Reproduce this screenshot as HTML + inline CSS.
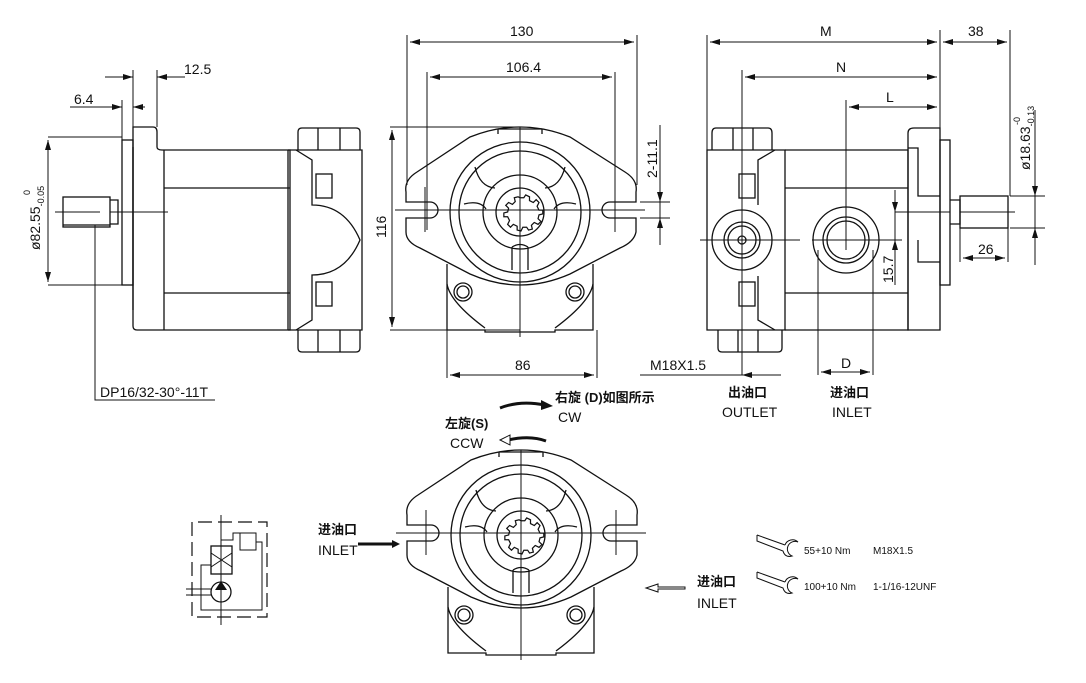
<!DOCTYPE html>
<html><head><meta charset="utf-8"><style>
html,body{margin:0;padding:0;background:#fff}
svg{display:block}
text{font-family:"Liberation Sans","Noto Sans CJK SC",sans-serif;fill:#111}
.d{font-family:"Liberation Sans Narrow","Liberation Sans",sans-serif;font-size:14px}
.b{font-weight:bold;font-size:13px}
</style></head><body>
<svg width="1086" height="683" viewBox="0 0 1086 683" xmlns="http://www.w3.org/2000/svg">
<defs>
<marker id="a" viewBox="0 0 10 6" refX="10" refY="3" markerWidth="10" markerHeight="6" orient="auto-start-reverse" markerUnits="userSpaceOnUse"><path d="M0,0L10,3L0,6z" fill="#111"/></marker>
<g id="front" fill="none" stroke="#111" stroke-width="1.3">
  <path d="M-22,-83 L-22,-78 M22,-83 L22,-78 M-22,-83 H22"/>
  <path d="M-50,-75 Q0,-95 50,-75 L105,-40 Q118,-32 116,-20 L116,-10 L90,-10 A8,8 0 0 0 90,6 L116,6 L116,20 Q114,30 100,36 L50,62 Q0,84 -50,62 L-100,36 Q-114,30 -114,20 L-114,6 L-90,6 A8,8 0 0 0 -90,-10 L-114,-10 L-114,-20 Q-116,-32 -103,-40 Z"/>
  <circle r="70"/><circle r="61"/><circle r="37"/><circle r="24"/>
  <path d="M0,-15 l4,0 2,-3 4,2 0,4 4,2 3,-3 3,3 -2,4 2,4 4,0 0,4 -4,1 -1,4 3,3 -3,3 -4,-2 -3,3 1,4 -4,1 -2,-3 -4,0 -2,4 -4,-1 0,-4 -4,-2 -3,3 -3,-3 2,-4 -2,-4 -4,0 0,-4 4,-1 1,-4 -3,-3 3,-3 4,2 3,-3 -1,-4 4,-1 z" transform="scale(0.95)"/>
  <path d="M-45,-45 Q-40,-25 -25,-24 M45,-45 Q40,-25 25,-24 M-56,-8 Q-40,-12 -34,-3 M56,-8 Q40,-12 34,-3 M-8,35 V58 M8,35 V58 M-8,35 Q0,30 8,35"/>
  <path d="M-73,52 V118 L-35,118 V120 H35 V118 L73,118 V52"/>
  <path d="M-73,72 Q-70,90 -35,116 M73,72 Q70,90 35,116"/>
  <circle cx="-57" cy="80" r="9"/><circle cx="-57" cy="80" r="6"/><circle cx="55" cy="80" r="9"/><circle cx="55" cy="80" r="6"/>
  <path d="M-125,-2 H125 M0,-85 V125" stroke-width="1"/>
  <path d="M-95,-25 V20 M95,-25 V20" stroke-width="1"/>
</g>
</defs>
<g fill="none" stroke="#111" stroke-width="1.3">
<path d="M133,127 H153 Q157,127 157,132 V147 Q157,150 162,150 H290 V330 H137 Q133,330 133,326 V268 Z"/>
<path d="M133,147 V310"/>
<rect x="122" y="140" width="11" height="145"/>
<path d="M164,150 V330 M164,188 H290 M164,293 H290 M288,150 V330 M288,150 H362 V330 H288"/>
<path d="M296,150 L312,160 V205 Q345,205 360,240 Q345,275 312,275 V320 L296,330"/>
<rect x="316" y="174" width="16" height="24"/><rect x="316" y="282" width="16" height="24"/>
<path d="M298,150 V132 Q298,128 302,128 H356 Q360,128 360,132 V150 M318,128 V150 M340,128 V150"/>
<path d="M298,330 V348 Q298,352 302,352 H356 Q360,352 360,348 V330 M318,330 V352 M340,330 V352"/>
<rect x="63" y="197" width="47" height="30"/><path d="M110,200 H118 V224 H110 M63,225 H110" />
<path d="M55,212 H100 M110,212 H168" stroke-width="1"/>
<path d="M707,150 H785 V330 H707 Z"/>
<path d="M785,150 H908 V330 H785 M785,188 H908 M785,293 H908"/>
<path d="M775,150 L758,160 V205 M758,276 V320 L775,330"/>
<rect x="739" y="174" width="16" height="24"/><rect x="739" y="282" width="16" height="24"/>
<path d="M908,150 V133 Q908,128 914,128 H940 V330 H908 Z M908,148 H918 V196 H940 M918,240 V262 H940"/>
<rect x="940" y="140" width="10" height="145"/>
<rect x="960" y="196" width="48" height="32"/><path d="M950,200 H960 V224 H950"/>
<path d="M712,150 V133 Q712,128 716,128 H768 Q772,128 772,133 V150 M733,128 V150 M753,128 V150"/>
<path d="M718,330 V348 Q718,352 722,352 H778 Q782,352 782,348 V330 M738,330 V352 M758,330 V352"/>
<circle cx="742" cy="240" r="30"/><circle cx="742" cy="240" r="18"/><circle cx="742" cy="240" r="14"/><circle cx="742" cy="240" r="4"/>
<circle cx="846" cy="240" r="33"/><circle cx="846" cy="240" r="23"/><circle cx="846" cy="240" r="19"/>
<path d="M700,240 H800 M812,240 H902 M895,212 H950 M960,212 H1015" stroke-width="1"/>
<path d="M192,522 V617 H267 V522 H192" stroke-dasharray="14,6" stroke-width="1.2"/>
<path d="M221,515 V625 M221,540 H233 V533 H247 M256,542 H262 V610 H201 V565 H211 M186,589 H211 M186,595 H211" stroke-width="1"/>
<rect x="211" y="546" width="21" height="28"/><path d="M211,553 L232,567 M232,553 L211,567" stroke-width="1"/>
<rect x="240" y="533" width="16" height="17" stroke-width="1"/>
<circle cx="221" cy="592" r="10"/>
</g>
<path d="M221,581 L227,590 L215,590 Z" fill="#111"/>
<use href="#front" x="520" y="212"/>
<use href="#front" x="521" y="535"/>
<g stroke="#111" stroke-width="1" fill="none">
<path d="M407,35 V185 M637,35 V185 M427,72 V230 M615,72 V230 M133,70 V127 M157,70 V127 M122,100 V140 M48,137 H122 M48,285 H122 M390,127 H520 M390,330 H520 M447,330 V378 M597,330 V378 M707,35 V150 M940,30 V128 M1010,30 V196 M742,70 V375 M846,100 V250 M818,250 V375 M873,250 V375 M660,160 V245 M640,202 H670 M640,218 H670 M895,190 V285 M1035,110 V265 M1010,196 H1045 M1010,228 H1045 M960,228 V262 M1008,228 V262"/>
<path d="M95,225 V400 H215"/>
<path d="M640,375 H742"/>
<path d="M410,42 H634" marker-start="url(#a)" marker-end="url(#a)"/>
<path d="M430,77 H612" marker-start="url(#a)" marker-end="url(#a)"/>
<path d="M105,77 H133" marker-end="url(#a)"/><path d="M185,77 H157" marker-end="url(#a)"/>
<path d="M70,107 H122" marker-end="url(#a)"/><path d="M145,107 H133" marker-end="url(#a)"/>
<path d="M48,140 V282" marker-start="url(#a)" marker-end="url(#a)"/>
<path d="M392,130 V327" marker-start="url(#a)" marker-end="url(#a)"/>
<path d="M450,375 H594" marker-start="url(#a)" marker-end="url(#a)"/>
<path d="M660,125 V202" marker-end="url(#a)"/><path d="M660,235 V218" marker-end="url(#a)"/>
<path d="M710,42 H937" marker-start="url(#a)" marker-end="url(#a)"/>
<path d="M943,42 H1007" marker-start="url(#a)" marker-end="url(#a)"/>
<path d="M745,77 H937" marker-start="url(#a)" marker-end="url(#a)"/>
<path d="M849,107 H937" marker-start="url(#a)" marker-end="url(#a)"/>
<path d="M1035,110 V196" marker-end="url(#a)"/><path d="M1035,250 V228" marker-end="url(#a)"/>
<path d="M963,258 H1005" marker-start="url(#a)" marker-end="url(#a)"/>
<path d="M895,190 V212" marker-end="url(#a)"/><path d="M895,285 V240" marker-end="url(#a)"/>
<path d="M821,372 H870" marker-start="url(#a)" marker-end="url(#a)"/>
<path d="M760,375 H781 M760,375 H742" marker-end="url(#a)"/>
</g>
<path d="M500,408 Q520,400 545,405" stroke="#111" stroke-width="3" fill="none"/>
<path d="M541,400 L553,406 L541,410 Z" fill="#111"/>
<path d="M508,440 Q530,435 546,441" stroke="#111" stroke-width="3" fill="none"/><path d="M509,437 Q530,432 545,438" stroke="#fff" stroke-width="1" fill="none"/>
<path d="M500,440 L510,435 L510,445 Z" fill="#fff" stroke="#111"/>
<path d="M358,544 H395" stroke="#111" stroke-width="3"/><path d="M392,540 L400,544 L392,548 Z" fill="#111"/>
<path d="M685,587 H658 V584 L646,588 L658,592 V589 H685 Z" fill="none" stroke="#111" stroke-width="1"/>
<g fill="none" stroke="#111" stroke-width="1">
<path d="M757,535 L785,545 M757,535 V541 L783,551 Q785,558 792,556 A7,7 0 0 1 798,542 A8,8 0 0 0 785,545"/>
<path d="M757,572 L785,582 M757,572 V578 L783,588 Q785,595 792,593 A7,7 0 0 1 798,579 A8,8 0 0 0 785,582"/>
</g>
<text class="d" x="184" y="74">12.5</text>
<text class="d" x="74" y="104">6.4</text>
<text class="d" x="510" y="36">130</text>
<text class="d" x="506" y="72">106.4</text>
<text class="d" x="515" y="370">86</text>
<text class="d" x="820" y="36">M</text>
<text class="d" x="968" y="36">38</text>
<text class="d" x="836" y="72">N</text>
<text class="d" x="886" y="102">L</text>
<text class="d" x="978" y="254">26</text>
<text class="d" x="841" y="368">D</text>
<text class="d" x="650" y="370">M18X1.5</text>
<text class="d" x="100" y="397">DP16/32-30°-11T</text>
<text class="d" transform="translate(40,250) rotate(-90)">ø82.55<tspan font-size="9" dy="4">-0.05</tspan></text>
<text transform="translate(30,195) rotate(-90)" font-size="9">0</text>
<text class="d" transform="translate(1030,170) rotate(-90)">ø18.63<tspan font-size="9" dy="4">-0.13</tspan></text>
<text transform="translate(1020,125) rotate(-90)" font-size="9">-0</text>
<text class="d" transform="translate(386,238) rotate(-90)">116</text>
<text class="d" transform="translate(657,178) rotate(-90)">2-11.1</text>
<text class="d" transform="translate(893,283) rotate(-90)">15.7</text>
<text class="b" x="728" y="397">出油口</text>
<text class="d" x="722" y="417">OUTLET</text>
<text class="b" x="830" y="397">进油口</text>
<text class="d" x="832" y="417">INLET</text>
<text class="b" x="555" y="402">右旋 (D)如图所示</text>
<text class="d" x="558" y="422">CW</text>
<text class="b" x="445" y="428">左旋(S)</text>
<text class="d" x="450" y="448">CCW</text>
<text class="b" x="318" y="534">进油口</text>
<text class="d" x="318" y="555">INLET</text>
<text class="b" x="697" y="586">进油口</text>
<text class="d" x="697" y="608">INLET</text>
<text x="804" y="554" font-size="10">55+10 Nm</text>
<text x="873" y="554" font-size="10">M18X1.5</text>
<text x="804" y="590" font-size="10">100+10 Nm</text>
<text x="873" y="590" font-size="10">1-1/16-12UNF</text>
</svg>
</body></html>
